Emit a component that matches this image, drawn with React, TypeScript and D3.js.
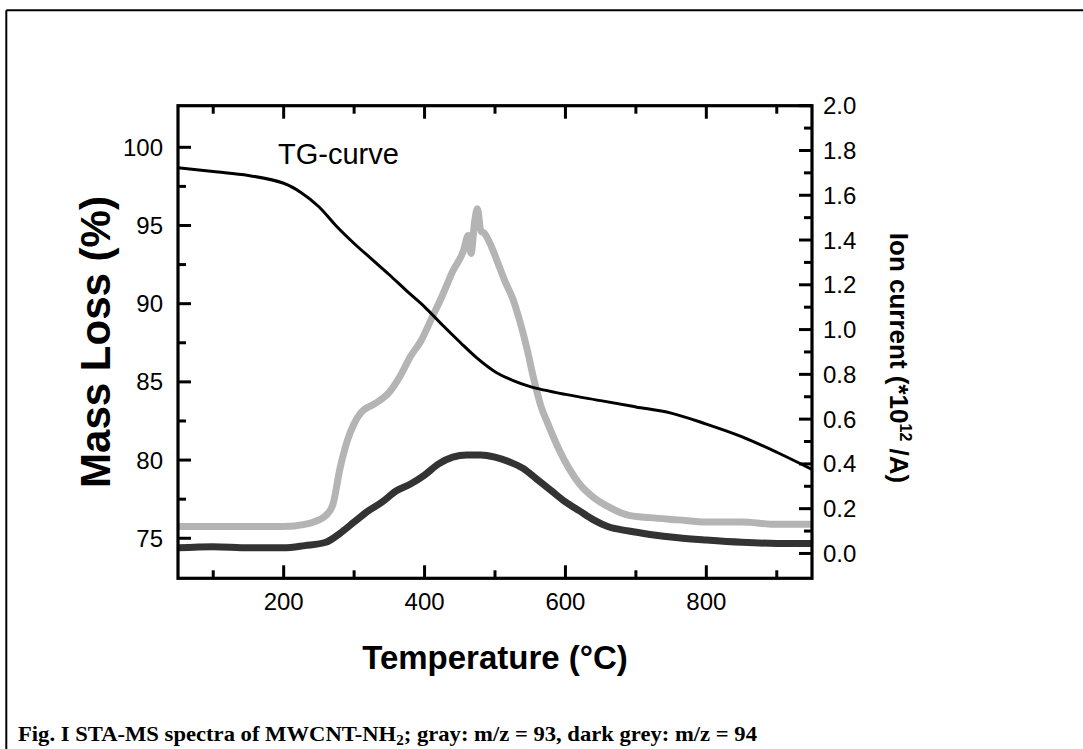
import React from "react";
import * as d3 from "d3";

// ---- data ----
const tgTemp = [50, 100, 150, 200, 225, 250, 275, 300, 325, 350, 375, 400, 425, 450, 475, 500, 525, 550, 600, 650, 700, 750, 800, 850, 900, 950];
const tgMass = [98.7, 98.45, 98.2, 97.7, 97.1, 96.2, 94.95, 93.85, 92.85, 91.85, 90.8, 89.8, 88.65, 87.55, 86.5, 85.65, 85.1, 84.7, 84.2, 83.8, 83.4, 83.0, 82.3, 81.5, 80.5, 79.4];

const grayTemp = [50, 100, 150, 200, 230, 250, 260, 270, 280, 290, 300, 310, 330, 350, 365, 380, 395, 410, 425, 440, 455, 462, 466, 471, 475, 480, 485, 495, 505, 515, 525, 535, 545, 555, 565, 575, 590, 605, 620, 640, 660, 690, 720, 760, 800, 850, 900, 950];
const grayIon = [0.12, 0.12, 0.12, 0.12, 0.13, 0.15, 0.17, 0.22, 0.38, 0.5, 0.58, 0.63, 0.67, 0.72, 0.79, 0.88, 0.95, 1.05, 1.15, 1.26, 1.35, 1.42, 1.34, 1.48, 1.54, 1.44, 1.43, 1.37, 1.29, 1.21, 1.14, 1.04, 0.92, 0.78, 0.66, 0.58, 0.47, 0.38, 0.31, 0.25, 0.21, 0.17, 0.16, 0.15, 0.14, 0.14, 0.13, 0.13];

const darkTemp = [50, 100, 150, 200, 230, 260, 280, 300, 320, 340, 360, 380, 400, 420, 440, 460, 480, 500, 520, 540, 560, 580, 600, 620, 640, 660, 690, 720, 760, 800, 850, 900, 950];
const darkIon = [0.025, 0.03, 0.025, 0.025, 0.035, 0.05, 0.09, 0.14, 0.19, 0.23, 0.28, 0.31, 0.35, 0.4, 0.43, 0.44, 0.44, 0.43, 0.41, 0.38, 0.33, 0.28, 0.23, 0.19, 0.15, 0.12, 0.1, 0.085, 0.07, 0.06, 0.05, 0.045, 0.045];

const xMajorTicks = [200, 400, 600, 800];
const xMinorTicks = [100, 300, 500, 700, 900];
const leftMajorTicks = [75, 80, 85, 90, 95, 100];
const leftMinorTicks = [77.5, 82.5, 87.5, 92.5, 97.5];
const rightMajorTicks = [0, 0.2, 0.4, 0.6, 0.8, 1.0, 1.2, 1.4, 1.6, 1.8, 2.0];
const rightMinorTicks = [0.1, 0.3, 0.5, 0.7, 0.9, 1.1, 1.3, 1.5, 1.7, 1.9];

const W = 1083;
const H = 749;
const X0 = 178, X1 = 812, Y0 = 105.7, Y1 = 578.3;

export default function App() {
  const x = d3.scaleLinear().domain([50, 950]).range([X0, X1]);
  const yL = d3.scaleLinear().domain([72.44, 102.66]).range([Y1, Y0]);
  const yR = d3.scaleLinear().domain([-0.111, 2.0]).range([Y1, Y0]);

  const tgLine = d3.line<number>().x((_, i) => x(tgTemp[i])).y((d) => yL(d)).curve(d3.curveCatmullRom.alpha(0.5));
  const grayLine = d3.line<number>().x((_, i) => x(grayTemp[i])).y((d) => yR(d)).curve(d3.curveMonotoneX);
  const darkLine = d3.line<number>().x((_, i) => x(darkTemp[i])).y((d) => yR(d)).curve(d3.curveMonotoneX);

  const font = "Liberation Sans, Arial, sans-serif";
  const major = 13, minor = 8;

  return (
    <svg width={W} height={H} style={{ position: "absolute", left: 0, top: 0, background: "#fff" }}>
      <rect x={0} y={0} width={W} height={H} fill="#fff" />
      {/* outer frame */}
      <line x1={6.3} y1={10.3} x2={W} y2={10.3} stroke="#000" strokeWidth={2} />
      <line x1={6.3} y1={10.3} x2={6.3} y2={H} stroke="#000" strokeWidth={2} />

      <defs>
        <clipPath id="plotclip">
          <rect x={X0} y={Y0} width={X1 - X0} height={Y1 - Y0} />
        </clipPath>
      </defs>

      <g clipPath="url(#plotclip)">
        <path d={grayLine(grayIon) || ""} fill="none" stroke="#b4b4b4" strokeWidth={7} strokeLinejoin="round" />
        <path d={darkLine(darkIon) || ""} fill="none" stroke="#333333" strokeWidth={7} strokeLinejoin="round" />
        <path d={tgLine(tgMass) || ""} fill="none" stroke="#000" strokeWidth={3} />
      </g>

      {/* axis box */}
      <rect x={X0} y={Y0} width={X1 - X0} height={Y1 - Y0} fill="none" stroke="#000" strokeWidth={3.2} />

      {/* bottom & top ticks */}
      {xMajorTicks.map((t) => (
        <g key={"xM" + t}>
          <line x1={x(t)} x2={x(t)} y1={Y1} y2={Y1 - major} stroke="#000" strokeWidth={3} />
          <line x1={x(t)} x2={x(t)} y1={Y0} y2={Y0 + major} stroke="#000" strokeWidth={3} />
          <text x={x(t)} y={610} textAnchor="middle" fontFamily={font} fontSize={24}>{t}</text>
        </g>
      ))}
      {xMinorTicks.map((t) => (
        <g key={"xm" + t}>
          <line x1={x(t)} x2={x(t)} y1={Y1} y2={Y1 - minor} stroke="#000" strokeWidth={3} />
          <line x1={x(t)} x2={x(t)} y1={Y0} y2={Y0 + minor} stroke="#000" strokeWidth={3} />
        </g>
      ))}

      {/* left ticks */}
      {leftMajorTicks.map((t) => (
        <g key={"lM" + t}>
          <line x1={X0} x2={X0 + major} y1={yL(t)} y2={yL(t)} stroke="#000" strokeWidth={3} />
          <text x={163} y={yL(t) + 8.5} textAnchor="end" fontFamily={font} fontSize={24}>{t}</text>
        </g>
      ))}
      {leftMinorTicks.map((t) => (
        <line key={"lm" + t} x1={X0} x2={X0 + minor} y1={yL(t)} y2={yL(t)} stroke="#000" strokeWidth={3} />
      ))}

      {/* right ticks */}
      {rightMajorTicks.map((t) => (
        <g key={"rM" + t}>
          <line x1={X1} x2={X1 - major} y1={yR(t)} y2={yR(t)} stroke="#000" strokeWidth={3} />
          <text x={823} y={yR(t) + 8.5} textAnchor="start" fontFamily={font} fontSize={24}>{t.toFixed(1)}</text>
        </g>
      ))}
      {rightMinorTicks.map((t) => (
        <line key={"rm" + t} x1={X1} x2={X1 - minor} y1={yR(t)} y2={yR(t)} stroke="#000" strokeWidth={3} />
      ))}

      {/* annotation */}
      <text x={278} y={164} fontFamily={font} fontSize={29}>TG-curve</text>

      {/* axis titles */}
      <text x={(X0 + X1) / 2} y={669} textAnchor="middle" fontFamily={font} fontWeight="bold" fontSize={33}>Temperature (°C)</text>
      <text transform={`translate(110, ${(Y0 + Y1) / 2}) rotate(-90)`} textAnchor="middle" fontFamily={font} fontWeight="bold" fontSize={42}>Mass Loss (%)</text>
      <text transform={`translate(890, 358) rotate(90)`} textAnchor="middle" fontFamily={font} fontWeight="bold" fontSize={26}>
        Ion current (*10<tspan dy={-10} fontSize={16}>12</tspan><tspan dy={10}> /A)</tspan>
      </text>

      {/* caption */}
      <text x={18} y={741} fontFamily="Liberation Serif, Times New Roman, serif" fontWeight="bold" fontSize={21} textLength={739} lengthAdjust="spacingAndGlyphs">
        Fig. I STA-MS spectra of MWCNT-NH<tspan fontSize={14} dy={4}>2</tspan><tspan dy={-4}>; gray: m/z = 93, dark grey: m/z = 94</tspan>
      </text>
    </svg>
  );
}
